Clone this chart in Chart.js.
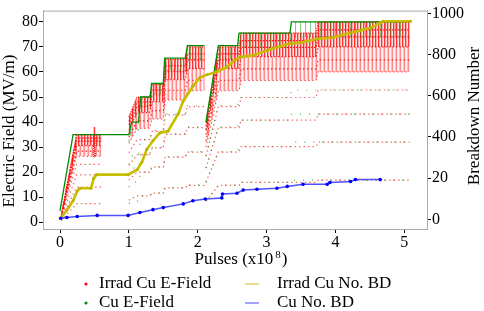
<!DOCTYPE html>
<html>
<head>
<meta charset="utf-8">
<script src="https://cdn.jsdelivr.net/npm/chart.js@4.4.1/dist/chart.umd.min.js"></script>
<style>
  body { margin: 0; background: #fff; }
  #wrap { width: 484px; height: 311px; }
</style>
</head>
<body>
<div id="wrap"><canvas id="bdChart"></canvas></div>
<script>
// x ticks (pulses, x10^8) and tick labels
const pulseTicks = [0, 1, 2, 3, 4, 5];
const fieldTicks = [0, 10, 20, 30, 40, 50, 60, 70, 80];
const bdTicks = [0, 200, 400, 600, 800, 1000];
const bdTickLabels = ["0", "20", "400", "600", "800", "1000"];

// Irrad Cu E-field: pulse positions shared by all the rows of dots (null = no data)
const irradX = [0.02, 0.24, 0.6, 0.8, 1.0, 1.06, 1.12, 1.3, 1.34, 1.5, 1.53, 1.82, 1.85, 2.1, 2.11, 2.12, 2.3, 2.6, 2.63, 3.72, 3.75, 5.08];
const irradRow100 = [3, 35, 35, null, 42, 46, 50, 50, 55, 55, 65, 65, 70, 70, null, 40, 70, 70, 75.5, 75.5, 80, 80];
const irradRow96 = [2.9, 33.6, 33.6, null, 40.3, 44.2, 48, 48, 52.8, 52.8, 62.4, 62.4, 67.2, 67.2, null, 38.4, 67.2, 67.2, 72.5, 72.5, 76.8, 76.8];
const irradRow92 = [2.8, 32.4, 32.4, null, 38.9, 42.6, 46.3, 46.3, 50.9, 50.9, 60.1, 60.1, 64.8, 64.8, null, 37, 64.8, 64.8, 69.8, 69.8, 74, 74];
const irradRow87 = [2.6, 30.6, 30.6, null, 36.8, 40.3, 43.8, 43.8, 48.1, 48.1, 56.9, 56.9, 61.3, 61.3, null, 35, 61.3, 61.3, 66.1, 66.1, 70, 70];
const irradRow81 = [2.4, 28.4, 28.4, null, 34, 37.3, 40.5, 40.5, 44.6, 44.6, 52.7, 52.7, 56.7, 56.7, null, 32.4, 56.7, 56.7, 61.2, 61.2, 64.8, 64.8];
const irradRow75 = [2.3, 26.3, 26.3, null, 31.5, 34.5, 37.5, 37.5, 41.3, 41.3, 48.8, 48.8, 52.5, 52.5, null, 30, 52.5, 52.5, 56.6, 56.6, 60, 60];
const irradRow66 = [2, 23.1, 23.1, null, 27.7, 30.4, 33, 33, 36.3, 36.3, 42.9, 42.9, 46.2, 46.2, null, 26.4, 46.2, 46.2, 49.8, 49.8, 52.8, 52.8];
const irradRow54 = [1.6, 18.9, 18.9, null, 22.7, 24.8, 27, 27, 29.7, 29.7, 35.1, 35.1, 37.8, 37.8, null, 21.6, 37.8, 37.8, 40.8, 40.8, 43.2, 43.2];
const irradRow40 = [1.2, 14, 14, null, 16.8, 18.4, 20, 20, 22, 22, 26, 26, 28, 28, null, 16, 28, 28, 30.2, 30.2, 32, 32];
const irradRow21 = [0.6, 7.4, 7.4, null, 8.8, 9.7, 10.5, 10.5, 11.6, 11.6, 13.7, 13.7, 14.7, 14.7, null, 8.4, 14.7, 14.7, 15.9, 15.9, 16.8, 16.8];
// the tall burst at ~0.5
const irradSpikeX = [0.49, 0.5, 0.51];
const irradSpikeY = [26, 38, 26];

// Cu E-field
const cuX = [0, 0.19, 1.0, 1.04, 1.14, 1.17, 1.31, 1.33, 1.5, 1.52, 1.82, 1.85, 2.1, 2.11, 2.12, 2.3, 2.58, 2.6, 3.34, 3.36, 5.08];
const cuRow100 = [4.5, 35, 35, 40, 40, 50, 50, 55.4, 55.4, 65.5, 65.5, 70.5, 70.5, null, 40, 70.5, 70.5, 75.5, 75.5, 80, 80];
const cuRow92 = [null, null, 32.4, 37, 37, 46.3, 46.3, 51.2, 51.2, 60.6, 60.6, 65.2, 65.2, null, 37, 65.2, 65.2, 69.8, 69.8, 74, 74];
const cuRow66 = [null, null, 23.1, 26.4, 26.4, 33, 33, 36.6, 36.6, 43.2, 43.2, 46.5, 46.5, null, 26.4, 46.5, 46.5, 49.8, 49.8, 52.8, 52.8];
const cuRow54 = [null, null, 18.9, 21.6, 21.6, 27, 27, 29.9, 29.9, 35.4, 35.4, 38.1, 38.1, null, 21.6, 38.1, 38.1, 40.8, 40.8, 43.2, 43.2];
const cuRow40 = [null, null, 14, 16, 16, 20, 20, 22.2, 22.2, 26.2, 26.2, 28.2, 28.2, null, 16, 28.2, 28.2, 30.2, 30.2, 32, 32];
const cuRow21 = [null, null, 7.4, 8.4, 8.4, 10.5, 10.5, 11.6, 11.6, 13.8, 13.8, 14.8, 14.8, null, 8.4, 14.8, 14.8, 15.9, 15.9, 16.8, 16.8];

// breakdown counts (right axis)
const irradBdPulse = [0.01, 0.1, 0.19, 0.25, 0.29, 0.45, 0.49, 0.53, 0.99, 1.12, 1.19, 1.26, 1.35, 1.45, 1.57, 1.72, 1.79, 1.93, 2.03, 2.14, 2.28, 2.43, 2.54, 2.62, 2.81, 3.01, 3.15, 3.34, 3.49, 3.74, 3.95, 4.22, 4.51, 4.69, 5.09];
const irradBdCount = [5, 45, 90, 137, 151, 151, 200, 217, 217, 241, 278, 340, 382, 420, 429, 514, 575, 646, 689, 703, 717, 741, 774, 788, 797, 821, 835, 854, 858, 877, 882, 906, 929, 962, 962];
const cuBdPulse = [0.01, 0.1, 0.25, 0.54, 0.99, 1.16, 1.35, 1.5, 1.79, 1.93, 2.11, 2.35, 2.36, 2.57, 2.66, 2.86, 3.15, 3.3, 3.53, 3.88, 3.92, 4.22, 4.29, 4.65];
const cuBdCount = [5, 9, 14, 19, 19, 33, 47, 57, 75, 90, 99, 104, 123, 127, 142, 146, 151, 160, 170, 170, 179, 184, 193, 193];

const serif = '"Liberation Serif", "Times New Roman", serif';
const pts = (xs, ys) => xs.map((x, i) => ({ x: x, y: ys[i] }));

// streak textures for the dense parts of the point clouds
function streaks(cols) {
  const c = document.createElement("canvas");
  c.width = cols.length;
  c.height = 4;
  const g = c.getContext("2d");
  cols.forEach((col, i) => {
    g.fillStyle = col;
    g.fillRect(i, 0, 1, 4);
  });
  return g.createPattern(c, "repeat");
}
const redStrong = streaks(["rgba(255,0,0,0.8)", "rgba(255,0,0,0.35)", "rgba(255,60,60,0.15)"]);
const redSoft = streaks(["rgba(255,0,0,0.45)", "rgba(255,0,0,0.1)", "rgba(255,0,0,0.05)", "rgba(255,0,0,0.25)"]);
const greenSoft = streaks(["rgba(0,140,0,0.45)", "rgba(0,0,0,0)", "rgba(0,0,0,0)", "rgba(0,0,0,0)", "rgba(0,0,0,0)"]);

function dotRow(xs, ys, color, dash, extra) {
  return Object.assign({
    data: pts(xs, ys),
    yAxisID: "y",
    borderColor: color,
    borderWidth: 1.2,
    borderDash: dash,
    pointRadius: 0,
    fill: false,
    spanGaps: false,
    tension: 0,
    order: 10,
  }, extra || {});
}

const red = "rgba(255,0,0,0.85)";
const redLight = "rgba(255,0,0,0.6)";
const green = "rgba(0,140,0,0.7)";

const datasets = [
  { label: "Cu No. BD", data: pts(cuBdPulse, cuBdCount), yAxisID: "y2", borderColor: "rgb(80,80,255)",
    borderWidth: 1.5, pointRadius: 1.8, pointBackgroundColor: "#0000ff", pointBorderWidth: 0, tension: 0, order: 1 },
  { label: "Irrad Cu No. BD", data: pts(irradBdPulse, irradBdCount), yAxisID: "y2", borderColor: "rgb(200,190,0)",
    borderWidth: 2.6, pointRadius: 1.5, pointBackgroundColor: "rgb(190,180,0)", pointBorderWidth: 0, tension: 0, order: 2 },
  dotRow(cuX, cuRow100, "rgb(0,140,0)", [], { borderWidth: 1.3, order: 3 }),
  dotRow(cuX, cuRow92, green, [1, 5], { order: 4 }),
  dotRow(cuX, cuRow66, green, [1, 8], { order: 4 }),
  dotRow(cuX, cuRow54, green, [1, 8], { order: 4 }),
  dotRow(cuX, cuRow40, green, [1, 8], { order: 4 }),
  dotRow(cuX, cuRow21, green, [1, 8], { order: 4 }),
  dotRow(irradSpikeX, irradSpikeY, "rgba(255,0,0,0.9)", [1, 1], { borderWidth: 1.5, order: 5 }),
  dotRow(irradX, irradRow100, red, [1.5, 1]),
  dotRow(irradX, irradRow96, red, [1.5, 1.5]),
  dotRow(irradX, irradRow92, red, [1.5, 1.5]),
  dotRow(irradX, irradRow87, red, [1.5, 2]),
  dotRow(irradX, irradRow81, red, [1.5, 2.5]),
  dotRow(irradX, irradRow75, redLight, [1.5, 2.5]),
  dotRow(irradX, irradRow66, redLight, [1.5, 3]),
  dotRow(irradX, irradRow54, redLight, [1.5, 3]),
  dotRow(irradX, irradRow40, redLight, [1.5, 3]),
  dotRow(irradX, irradRow21, redLight, [1.5, 3]),
];

// shaded bands between two rows: [upper dataset, lower dataset, texture]
const bands = [
  [9, 12, redStrong],
  [12, 14, redSoft],
  [2, 3, greenSoft],
];

const bandFill = {
  id: "bandFill",
  beforeDatasetsDraw(chart) {
    const ctx = chart.ctx;
    const a = chart.chartArea;
    ctx.save();
    ctx.beginPath();
    ctx.rect(a.left, a.top, a.right - a.left, a.bottom - a.top);
    ctx.clip();
    bands.forEach(([iu, il, tex]) => {
      const up = chart.getDatasetMeta(iu).data;
      const lo = chart.getDatasetMeta(il).data;
      let run = [];
      const flush = () => {
        if (run.length > 1) {
          ctx.beginPath();
          run.forEach((i, k) => (k ? ctx.lineTo(up[i].x, up[i].y) : ctx.moveTo(up[i].x, up[i].y)));
          for (let k = run.length - 1; k >= 0; k--) ctx.lineTo(lo[run[k]].x, lo[run[k]].y);
          ctx.closePath();
          ctx.fillStyle = tex;
          ctx.fill();
        }
        run = [];
      };
      up.forEach((p, i) => {
        if (p.skip || lo[i].skip) flush();
        else run.push(i);
      });
      flush();
    });
    ctx.restore();
  },
};

const tickFont = { family: serif, size: 16 };
const gridOpts = { drawOnChartArea: false, color: "#000", tickLength: 4, tickWidth: 1 };
const borderOpts = { color: "#aaa", width: 1 };

// titles, top frame line and the legend
const decorations = {
  id: "decorations",
  afterDraw(chart) {
    const ctx = chart.ctx;
    const a = chart.chartArea;
    ctx.save();
    ctx.strokeStyle = "#aaa";
    ctx.lineWidth = 1;
    ctx.beginPath();
    ctx.moveTo(a.left, a.top + 0.5);
    ctx.lineTo(a.right, a.top + 0.5);
    ctx.stroke();

    ctx.fillStyle = "#000";
    ctx.font = "17px " + serif;
    ctx.textBaseline = "middle";
    ctx.textAlign = "center";

    ctx.save();
    ctx.translate(10, 131);
    ctx.rotate(-Math.PI / 2);
    ctx.fillText("Electric Field (MV/m)", 0, 0);
    ctx.restore();

    ctx.save();
    ctx.translate(475, 116);
    ctx.rotate(-Math.PI / 2);
    ctx.fillText("Breakdown Number", 0, 0);
    ctx.restore();

    // x title with superscript
    ctx.textAlign = "left";
    const t1 = "Pulses (x10";
    const w1 = ctx.measureText(t1).width;
    ctx.font = "11px " + serif;
    const w2 = ctx.measureText("8").width;
    ctx.font = "17px " + serif;
    const w3 = ctx.measureText(")").width;
    const x0 = 241 - (w1 + w2 + 3 + w3) / 2;
    ctx.fillText(t1, x0, 260);
    ctx.font = "11px " + serif;
    ctx.fillText("8", x0 + w1 + 2, 255);
    ctx.font = "17px " + serif;
    ctx.fillText(")", x0 + w1 + w2 + 3, 260);

    // legend
    const rows = [284, 303];
    ctx.fillStyle = "#ff0000";
    ctx.beginPath(); ctx.arc(86, rows[0], 1.6, 0, Math.PI * 2); ctx.fill();
    ctx.fillStyle = "#008c00";
    ctx.beginPath(); ctx.arc(86, rows[1], 1.6, 0, Math.PI * 2); ctx.fill();
    ctx.lineWidth = 1.2;
    ctx.strokeStyle = "rgb(215,200,70)";
    ctx.beginPath(); ctx.moveTo(245, rows[0]); ctx.lineTo(259, rows[0]); ctx.stroke();
    ctx.strokeStyle = "rgb(100,100,255)";
    ctx.beginPath(); ctx.moveTo(245, rows[1]); ctx.lineTo(259, rows[1]); ctx.stroke();
    ctx.fillStyle = "#000";
    ctx.fillText("Irrad Cu E-Field", 99, rows[0]);
    ctx.fillText("Cu E-Field", 99, rows[1]);
    ctx.fillText("Irrad Cu No. BD", 277, rows[0]);
    ctx.fillText("Cu No. BD", 277, rows[1]);
    ctx.restore();
  },
};

new Chart(document.getElementById("bdChart"), {
  type: "line",
  data: { datasets: datasets },
  options: {
    responsive: true,
    maintainAspectRatio: false,
    animation: false,
    devicePixelRatio: 1,
    layout: { padding: { top: 4, left: 0, right: 0, bottom: 0 } },
    plugins: { legend: { display: false }, tooltip: { enabled: false } },
    scales: {
      x: {
        type: "linear",
        min: -0.247,
        max: 5.33,
        afterBuildTicks: (s) => { s.ticks = pulseTicks.map((v) => ({ value: v })); },
        afterFit: (s) => { s.height = 82; },
        grid: gridOpts,
        border: borderOpts,
        ticks: { color: "#000", font: tickFont, padding: 0, maxRotation: 0 },
      },
      y: {
        position: "left",
        min: -2.7,
        max: 84.5,
        afterBuildTicks: (s) => { s.ticks = fieldTicks.map((v) => ({ value: v })); },
        afterFit: (s) => { s.width = 43; },
        grid: gridOpts,
        border: borderOpts,
        ticks: { color: "#000", font: tickFont, padding: 1 },
      },
      y2: {
        position: "right",
        min: -47,
        max: 1014,
        afterBuildTicks: (s) => { s.ticks = bdTicks.map((v) => ({ value: v })); },
        afterFit: (s) => { s.width = 57; },
        grid: gridOpts,
        border: borderOpts,
        ticks: {
          color: "#000",
          font: tickFont,
          padding: 1,
          callback: (v) => bdTickLabels[bdTicks.indexOf(v)],
        },
      },
    },
  },
  plugins: [bandFill, decorations],
});
</script>
</body>
</html>
